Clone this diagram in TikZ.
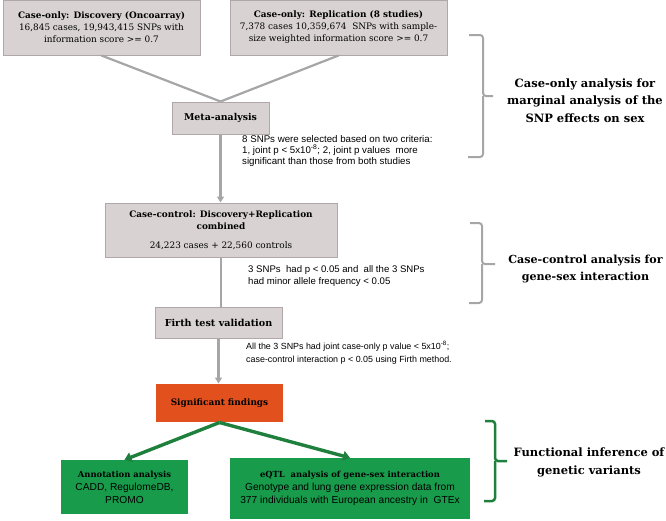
\documentclass[tikz,border=0pt]{standalone}
\usepackage{fontspec}
\setmainfont{DejaVu Serif}
\newfontfamily\notefont{Liberation Sans}
\usepackage{tikz}
\usetikzlibrary{arrows.meta}
\usetikzlibrary{calc}
\definecolor{boxgray}{RGB}{216,210,210}
\definecolor{edgegray}{RGB}{176,168,168}
\definecolor{linegray}{RGB}{166,166,166}
\definecolor{findred}{RGB}{226,80,30}
\definecolor{boxgreen}{RGB}{24,156,76}
\definecolor{arrowgreen}{RGB}{30,128,60}

\begin{document}
\begin{tikzpicture}[
	x=1pt,y=-1pt,
	graybox/.style={draw=edgegray,fill=boxgray,line width=1pt,inner sep=2pt,align=center,
		font=\fontsize{8.9}{12}\selectfont},
	greenbox/.style={fill=boxgreen,inner sep=2pt,align=center,
		font=\notefont\fontsize{10.2}{13}\selectfont},
	note/.style={anchor=base west,inner sep=0pt,align=left,
		font=\notefont\fontsize{9.7}{10.6}\selectfont},
	sidelabel/.style={align=center,inner sep=0pt,font=\fontsize{11.5}{17.5}\selectfont\bfseries},
	conn/.style={draw=linegray,line width=2.2pt},
	grayarrow/.style={conn,-{Triangle[length=6pt,width=7pt]}},
	greenarrow/.style={draw=arrowgreen,line width=3.4pt,-{Triangle[length=7pt,width=10pt]}},
	bracket/.style={draw=linegray,line width=2pt,rounded corners=3pt}
]

	% definitions
	\def\hd#1{{\rmfamily\bfseries\fontsize{8.4}{12}\selectfont #1}}

	\useasboundingbox (0,0) rectangle (666,520);

	% define nodes
	\node[graybox,minimum width=197pt,minimum height=55pt] (disc) at (101.5,27.5)
		{\textbf{Case-only: Discovery (Oncoarray)}\\16,845 cases, 19,943,415 SNPs with\\information score >= 0.7};
	\node[graybox,minimum width=217pt,minimum height=55pt] (repl) at (338.5,27.5)
		{\textbf{Case-only: Replication (8 studies)}\\7,378 cases 10,359,674\ \ SNPs with sample-\\size weighted information score >= 0.7};
	\node[graybox,minimum width=97pt,minimum height=32pt,font=\fontsize{9.4}{12}\selectfont] (meta) at (220.5,118)
		{\textbf{Meta-analysis}};
	\node[graybox,minimum width=232pt,minimum height=54pt] (cc) at (221,230)
		{\textbf{Case-control: Discovery+Replication}\\\textbf{combined}\\[7pt]24,223 cases + 22,560 controls};
	\node[graybox,minimum width=127pt,minimum height=31pt,font=\fontsize{9.6}{12}\selectfont] (firth) at (218.5,322.5)
		{\textbf{Firth test validation}};
	\node[graybox,draw=none,fill=findred,minimum width=127pt,minimum height=38pt] (sig) at (219.5,403)
		{\textbf{Significant findings}};
	\node[greenbox,minimum width=127pt,minimum height=54pt] (annot) at (124.5,487)
		{\hd{Annotation analysis}\\CADD, RegulomeDB,\\PROMO};
	\node[greenbox,minimum width=240pt,minimum height=61pt] (eqtl) at (350,488.5)
		{\hd{eQTL\ \ analysis of gene-sex interaction}\\Genotype and lung gene expression data from\\377 individuals with European ancestry in\ \ GTEx};

	% notes on the arrows
	\node[note] (crit) at (242,164)
		{8 SNPs were selected based on two criteria:\\1, joint p < 5x10\textsuperscript{-8}; 2, joint p values\ \ more\\significant than those from both studies};
	\node[note,font=\notefont\fontsize{9.6}{12}\selectfont] (maf) at (248,284)
		{3 SNPs\ \ had p < 0.05 and\ \ all the 3 SNPs\\had minor allele frequency < 0.05};
	\node[note,font=\notefont\fontsize{8.9}{13}\selectfont] (joint) at (246,362)
		{All the 3 SNPs had joint case-only p value < 5x10\textsuperscript{-8};\\case-control interaction p < 0.05 using Firth method.};

	% side labels
	\node[sidelabel] (lab1) at (585,100.5) {Case-only analysis for\\marginal analysis of the\\SNP effects on sex};
	\node[sidelabel,font=\fontsize{11.1}{16.5}\selectfont\bfseries] (lab2) at (585.5,269) {Case-control analysis for\\gene-sex interaction};
	\node[sidelabel] (lab3) at (589,462.5) {Functional inference of\\genetic variants};

	% draw connectors
	\draw[conn] (disc.south) -- (meta.north);
	\draw[conn] (repl.south) -- (meta.north);
	\draw[grayarrow] (meta.south) -- (meta.south |- cc.north);
	\draw[conn] (cc.south) -- (cc.south |- firth.north);
	\draw[grayarrow] (firth.south) -- (firth.south |- sig.north);
	\draw[greenarrow] (sig.south) -- (annot.north);
	\draw[greenarrow] (sig.south) -- (eqtl.north);

	% brackets
	\draw[bracket] (469,35) -- (483,35) -- (483,96) -- (493,96);
	\draw[bracket] (483,96) -- (483,157) -- (468,157);
	\draw[bracket] (470,223) -- (482,223) -- (482,264) -- (495,264);
	\draw[bracket] (482,264) -- (482,303) -- (469,303);
	\draw[bracket,draw=arrowgreen,line width=2.5pt] (485,421) -- (495,421) -- (495,461) -- (507,461);
	\draw[bracket,draw=arrowgreen,line width=2.5pt] (495,461) -- (495,501) -- (484,501);

\end{tikzpicture}
\end{document}
